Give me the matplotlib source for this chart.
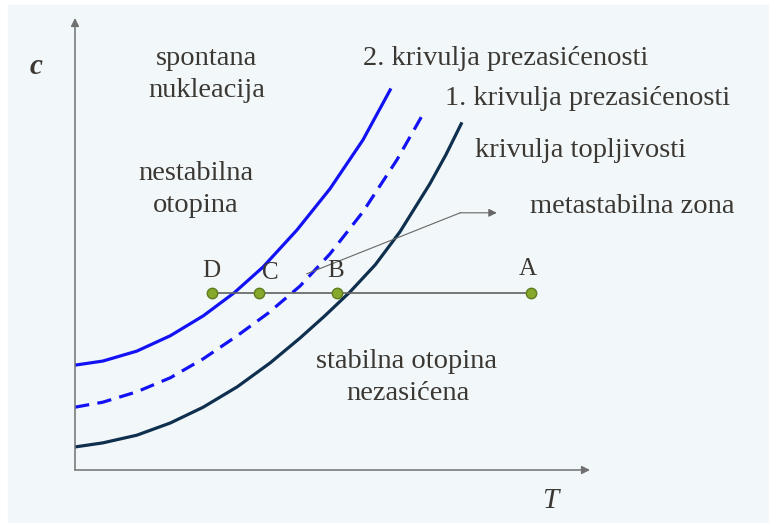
"""Supersaturation / solubility diagram (c vs T), schematic."""

import matplotlib
matplotlib.use("Agg")
import matplotlib.pyplot as plt
from matplotlib.patches import Rectangle

W, H = 769, 523
BG = "#f2f8f9"
TXT = "#3b3733"

# curves, arbitrary units (T: 0..10, c: 0..10)
sup2_T = [0, 0.54, 1.20, 1.85, 2.49, 3.09, 3.65, 4.31, 4.95, 5.59, 6.12]
sup2_c = [2.32, 2.41, 2.63, 2.97, 3.41, 3.92, 4.49, 5.31, 6.22, 7.30, 8.41]

sup1_T = [0, 0.54, 1.20, 1.85, 2.49, 3.15, 3.75, 4.37, 4.95, 5.59, 6.25, 6.78]
sup1_c = [1.39, 1.50, 1.73, 2.04, 2.46, 2.97, 3.47, 4.07, 4.78, 5.71, 6.86, 7.92]

sol_T = [0, 0.54, 1.20, 1.85, 2.49, 3.15, 3.79, 4.37, 4.85, 5.34, 5.83, 6.31,
         6.89, 7.20, 7.50]
sol_c = [0.51, 0.60, 0.77, 1.04, 1.39, 1.84, 2.37, 2.92, 3.41, 3.94, 4.54, 5.27,
         6.33, 6.97, 7.66]

# cooling path D-C-B-A
path_c = 3.92
pt_names = ["D", "C", "B", "A"]
pt_T = [2.66, 3.57, 5.09, 8.85]

# pointer to "metastabilna zona"
ptr_T = [4.50, 7.48, 8.19]
ptr_c = [4.34, 5.69, 5.69]

fig = plt.figure(figsize=(W / 100, H / 100), dpi=100, facecolor="white")
fig.patches.append(Rectangle((8 / W, 0), 1, 1 - 5 / H, transform=fig.transFigure,
                             color=BG, zorder=-5))
ax = fig.add_axes([75 / W, (H - 470) / H, (590 - 75) / W, (470 - 18) / H])
ax.set_xlim(0, 10)
ax.set_ylim(0, 10)
ax.axis("off")
ax.patch.set_alpha(0)

# axes with arrow heads
for end in [(1, 0), (0, 1)]:
    ax.annotate("", xy=end, xytext=(0, 0), xycoords="axes fraction",
                arrowprops=dict(arrowstyle="-|>", color="#707070", lw=1.1,
                                mutation_scale=12, shrinkA=0, shrinkB=0))

ax.plot(sup2_T, sup2_c, color="#1212f5", lw=2.3, solid_joinstyle="round")
ax.plot(sup1_T, sup1_c, color="#1212f5", lw=2.3, dashes=(4.5, 2.6))
ax.plot(sol_T, sol_c, color="#0f2f4f", lw=2.3, solid_joinstyle="round")

ax.plot([pt_T[0], pt_T[-1]], [path_c, path_c], color="#606060", lw=1.2, zorder=3)
ax.plot(pt_T, [path_c] * len(pt_T), "o", ms=7.5, mfc="#86a82c", mec="#5f7d1e",
        mew=1.0, zorder=4)

ax.plot(ptr_T[:2], ptr_c[:2], color="#666666", lw=0.8)
ax.annotate("", xy=(ptr_T[2], ptr_c[2]), xytext=(ptr_T[1], ptr_c[1]),
            arrowprops=dict(arrowstyle="-|>", color="#666666", lw=0.8,
                            mutation_scale=12, shrinkA=0, shrinkB=0))


def label(x, y, s, size=20.5, ha="left", **kw):
    fig.text(x / W, 1 - y / H, s, ha=ha, va="baseline", fontsize=size,
             family="Liberation Serif", color=TXT, **kw)


label(207, 65, "spontana", ha="center")
label(207, 97, "nukleacija", ha="center")
label(196, 180, "nestabilna", ha="center")
label(196, 212, "otopina", ha="center")
label(407, 368, "stabilna otopina", ha="center")
label(408, 400, "nezasićena", ha="center")
label(363, 65, "2. krivulja prezasićenosti")
label(445, 105, "1. krivulja prezasićenosti")
label(475, 157, "krivulja topljivosti")
label(530, 213, "metastabilna zona")

for name, x, y in zip(pt_names, [211, 270, 336, 528], [277, 279, 277, 275]):
    label(x, y, name, size=18, ha="center")

label(36, 74, "c", size=21, ha="center", style="italic", weight="bold")
label(550, 508, "T", size=21, ha="center", style="italic")

fig.savefig("out.png", dpi=100, facecolor=fig.get_facecolor())
